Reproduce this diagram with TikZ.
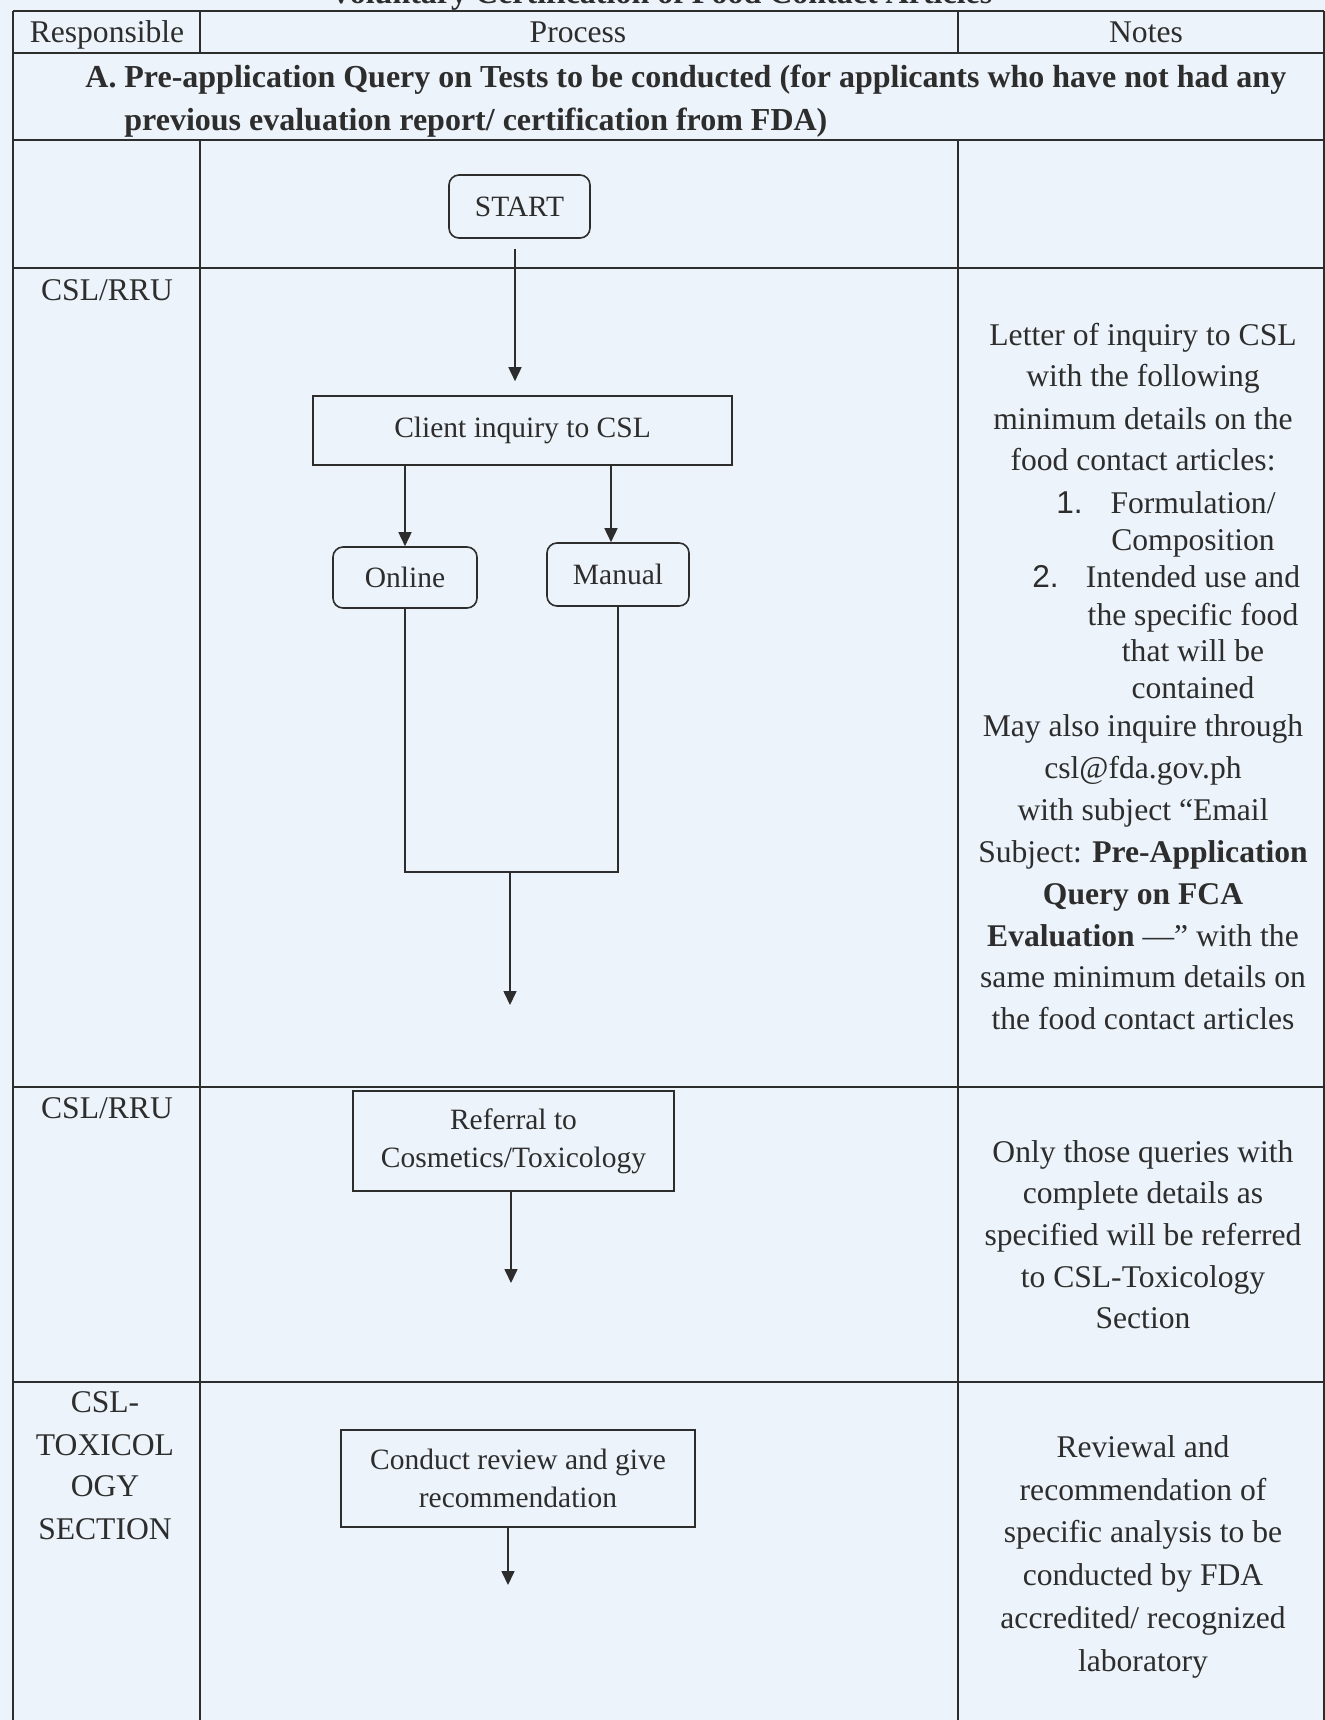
\documentclass[tikz,border=0pt]{standalone}
\usepackage{fontspec}
\setmainfont{Liberation Serif}
\newfontfamily\numfont{Liberation Sans}
\usetikzlibrary{arrows.meta,calc}
\definecolor{bg}{RGB}{236,243,250}
\definecolor{ink}{RGB}{45,45,45}
\begin{document}
\begin{tikzpicture}[x=0.5pt,y=-0.5pt,
  grid/.style={draw=ink,line width=0.8pt},
  tx/.style={font=\fontsize{15.8}{21.2}\selectfont,text=ink,inner sep=0pt,anchor=base},
  txb/.style={tx,font=\fontsize{16}{21.2}\selectfont\bfseries},
  bx/.style={draw=ink,line width=0.8pt,font=\fontsize{14.75}{19.2}\selectfont,text=ink,align=center,inner sep=0pt},
  rbx/.style={bx,rounded corners=5pt},
  link/.style={draw=ink,line width=0.8pt},
  arr/.style={link,-{Triangle[length=7pt,width=6.5pt]}}]
\clip (0,0) rectangle (1325,1720);
\fill[bg] (0,0) rectangle (1325,1720);
% title (cut off at top, as in the reference)
\node[txb] (title) at (661,3) {Voluntary Certification of Food Contact Articles};
% table grid
\draw[grid] (13,11) -- (1324,11);
\draw[grid] (13,53) -- (1324,53);
\draw[grid] (13,140) -- (1324,140);
\draw[grid] (13,268) -- (1324,268);
\draw[grid] (13,1087) -- (1324,1087);
\draw[grid] (13,1382) -- (1324,1382);
\draw[grid] (13,11) -- (13,1720);
\draw[grid] (1324,11) -- (1324,1720);
\draw[grid] (200,11) -- (200,53);
\draw[grid] (958,11) -- (958,53);
\draw[grid] (200,140) -- (200,1720);
\draw[grid] (958,140) -- (958,1720);
% header
\node[tx] (hresp) at (107,42) {Responsible};
\node[tx] (hproc) at (578,42) {Process};
\node[tx] (hnote) at (1146,42) {Notes};
% section A
\node[txb,anchor=base west] (secA) at (85,87) {A.};
\node[txb,anchor=base west] (secA1) at (124,87) {Pre-application Query on Tests to be conducted (for applicants who have not had any};
\node[txb,anchor=base west] (secA2) at (124,130) {previous evaluation report/ certification from FDA)};
% responsible column
\node[tx] (r1) at (107,300) {CSL/RRU};
\node[tx] (r2) at (107,1118) {CSL/RRU};
\node[tx] (r3a) at (105,1412) {CSL-};
\node[tx] (r3b) at (105,1455) {TOXICOL};
\node[tx] (r3c) at (105,1496) {OGY};
\node[tx] (r3d) at (105,1539) {SECTION};
% process boxes
\node[rbx,minimum width=70.5pt,minimum height=31.5pt] (start) at (519.5,206.5) {START};
\node[bx,minimum width=209.5pt,minimum height=34.5pt] (client) at (522.5,430.5) {Client inquiry to CSL};
\node[rbx,minimum width=72pt,minimum height=30.5pt] (online) at (405,577.5) {Online};
\node[rbx,minimum width=71pt,minimum height=31.5pt] (manual) at (618,574.5) {Manual};
\node[bx,minimum width=160.5pt,minimum height=50pt] (referral) at (513.5,1141) {Referral to\\Cosmetics/Toxicology};
\node[bx,minimum width=177pt,minimum height=48.5pt] (conduct) at (518,1478.5) {Conduct review and give\\recommendation};
\coordinate (merge) at (510,872);
\coordinate (mergeend) at (510,1005);
\coordinate (refend) at (511,1283);
\coordinate (condend) at (508,1585);
% connectors
\draw[arr,shorten <=5pt,shorten >=7pt] ([xshift=-2.25pt]start.south) -- ([xshift=-2.25pt]start.south |- client.north);
\draw[arr] (online.north |- client.south) -- (online.north);
\draw[arr] ([xshift=-3.5pt]manual.north |- client.south) -- ([xshift=-3.5pt]manual.north);
\draw[link] (online.south) -- (online.south |- merge) -- (manual.south |- merge) -- (manual.south);
\draw[arr] (merge) -- (mergeend);
\draw[arr] (referral.south -| refend) -- (refend);
\draw[arr] (conduct.south -| condend) -- (condend);
% notes row 1
\node[tx] (n1) at (1143,345) {Letter of inquiry to CSL};
\node[tx] (n2) at (1143,386) {with the following};
\node[tx] (n3) at (1143,429) {minimum details on the};
\node[tx] (n4) at (1143,470) {food contact articles:};
\node[tx,anchor=base east,font=\fontsize{15.8}{21.2}\numfont] (l1) at (1083,513) {1.};
\node[tx] (l1a) at (1193,513) {Formulation/};
\node[tx] (l1b) at (1193,550) {Composition};
\node[tx,anchor=base east,font=\fontsize{15.8}{21.2}\numfont] (l2) at (1059,587) {2.};
\node[tx] (l2a) at (1193,587) {Intended use and};
\node[tx] (l2b) at (1193,625) {the specific food};
\node[tx] (l2c) at (1193,661) {that will be};
\node[tx] (l2d) at (1193,698) {contained};
\node[tx] (n5) at (1143,736) {May also inquire through};
\node[tx] (n6) at (1143,778) {csl@fda.gov.ph};
\node[tx] (n7) at (1143,820) {with subject “Email};
\node[tx] (n8) at (1143,862) {Subject: \textbf{Pre-Application}};
\node[tx] (n9) at (1143,904) {\textbf{Query on FCA}};
\node[tx] (n10) at (1143,946) {\textbf{Evaluation} —” with the};
\node[tx] (n11) at (1143,987) {same minimum details on};
\node[tx] (n12) at (1143,1029) {the food contact articles};
% notes row 2
\node[tx] (m1) at (1143,1162) {Only those queries with};
\node[tx] (m2) at (1143,1203) {complete details as};
\node[tx] (m3) at (1143,1245) {specified will be referred};
\node[tx] (m4) at (1143,1287) {to CSL-Toxicology};
\node[tx] (m5) at (1143,1328) {Section};
% notes row 3
\node[tx] (k1) at (1143,1457) {Reviewal and};
\node[tx] (k2) at (1143,1500) {recommendation of};
\node[tx] (k3) at (1143,1542) {specific analysis to be};
\node[tx] (k4) at (1143,1585) {conducted by FDA};
\node[tx] (k5) at (1143,1628) {accredited/ recognized};
\node[tx] (k6) at (1143,1671) {laboratory};
\end{tikzpicture}
\end{document}
